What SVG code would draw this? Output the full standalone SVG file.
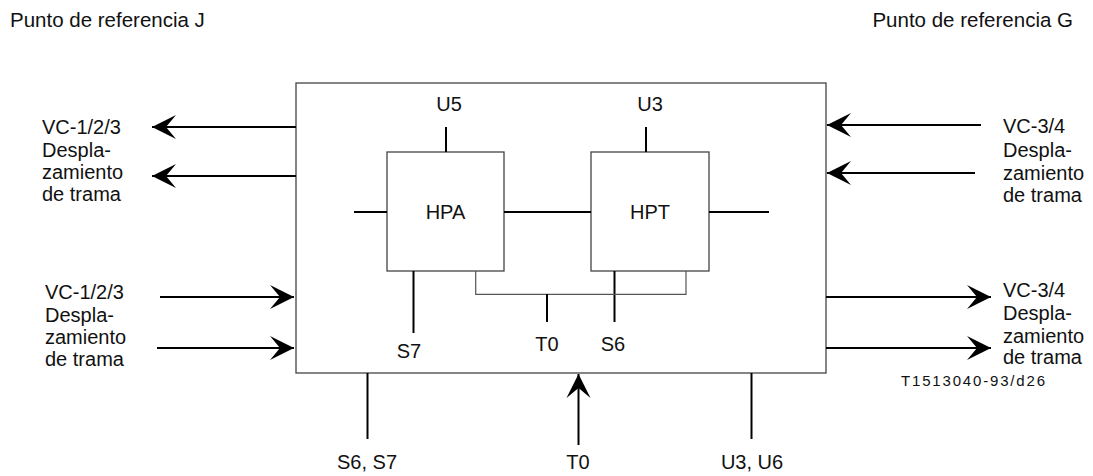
<svg xmlns="http://www.w3.org/2000/svg" width="1093" height="476" viewBox="0 0 1093 476">
<style>
text{font-family:"Liberation Sans",Arial,sans-serif;font-size:20px;fill:#111}
.c{text-anchor:middle}
.box{fill:#fff;stroke:#444;stroke-width:1.3}
.ln{stroke:#000;stroke-width:2;fill:none}
.thin{stroke:#555;stroke-width:1.2;fill:none}
.small{font-size:15px}
</style>
<defs>
<marker id="ah" viewBox="0 0 26 26" markerWidth="26" markerHeight="26" refX="25" refY="13" orient="auto" markerUnits="userSpaceOnUse">
<path d="M25,13 L1,1 L11,13 L1,25 Z" fill="#000"/>
</marker>
</defs>

<text x="10" y="27" style="font-size:20.5px">Punto de referencia J</text>
<text x="1073" y="27" style="text-anchor:end;font-size:20.5px">Punto de referencia G</text>

<g id="main">
<rect class="box" x="296" y="83" width="530" height="290"/>
</g>
<g id="hpa">
<rect class="box" x="387" y="152" width="117" height="119"/>
<text class="c" x="445.5" y="219">HPA</text>
</g>
<g id="hpt">
<rect class="box" x="591" y="152" width="118" height="119"/>
<text class="c" x="650" y="219">HPT</text>
</g>

<g id="connectors">
<line class="ln" x1="296" y1="127" x2="152" y2="127" marker-end="url(#ah)"/>
<line class="ln" x1="296" y1="176" x2="152" y2="176" marker-end="url(#ah)"/>
<line class="ln" x1="160" y1="297" x2="294" y2="297" marker-end="url(#ah)"/>
<line class="ln" x1="157" y1="348" x2="294" y2="348" marker-end="url(#ah)"/>
<line class="ln" x1="981" y1="125" x2="827" y2="125" marker-end="url(#ah)"/>
<line class="ln" x1="975" y1="173" x2="827" y2="173" marker-end="url(#ah)"/>
<line class="ln" x1="826" y1="297" x2="991" y2="297" marker-end="url(#ah)"/>
<line class="ln" x1="826" y1="348" x2="991" y2="348" marker-end="url(#ah)"/>
<line class="ln" x1="367.5" y1="373" x2="367.5" y2="439"/>
<line class="ln" x1="578.5" y1="445" x2="578.5" y2="374" marker-end="url(#ah)"/>
<line class="ln" x1="751.5" y1="373" x2="751.5" y2="439"/>
<line class="ln" x1="354" y1="212" x2="387" y2="212"/>
<line class="ln" x1="504" y1="212" x2="591" y2="212"/>
<line class="ln" x1="709" y1="212" x2="769" y2="212"/>
<line class="ln" x1="446" y1="127" x2="446" y2="152"/>
<line class="ln" x1="646" y1="127" x2="646" y2="152"/>
<line class="ln" x1="413.5" y1="271" x2="413.5" y2="333"/>
<line class="ln" x1="614.5" y1="271" x2="614.5" y2="322"/>
<path class="thin" d="M475.7,271 V294.3 H686 V271"/>
<line class="ln" x1="547" y1="294" x2="547" y2="322"/>
</g>

<g id="labels">
<text class="c" x="449" y="111">U5</text>
<text class="c" x="650" y="111">U3</text>
<text class="c" x="409" y="358">S7</text>
<text class="c" x="547" y="351">T0</text>
<text class="c" x="613" y="351">S6</text>
<text class="c" x="367" y="469">S6, S7</text>
<text class="c" x="578" y="469">T0</text>
<text class="c" x="752" y="469">U3, U6</text>

<text x="42" y="134">VC-1/2/3</text>
<text x="42" y="157">Despla-</text>
<text x="42" y="179">zamiento</text>
<text x="42" y="201">de trama</text>

<text x="45" y="299">VC-1/2/3</text>
<text x="45" y="322">Despla-</text>
<text x="45" y="344">zamiento</text>
<text x="45" y="366">de trama</text>

<text x="1003" y="133">VC-3/4</text>
<text x="1003" y="157">Despla-</text>
<text x="1003" y="180">zamiento</text>
<text x="1003" y="202">de trama</text>

<text x="1003" y="297">VC-3/4</text>
<text x="1003" y="320">Despla-</text>
<text x="1003" y="343">zamiento</text>
<text x="1003" y="364">de trama</text>

<text class="small" x="901" y="386" textLength="144" lengthAdjust="spacing">T1513040-93/d26</text>
</g>
</svg>
